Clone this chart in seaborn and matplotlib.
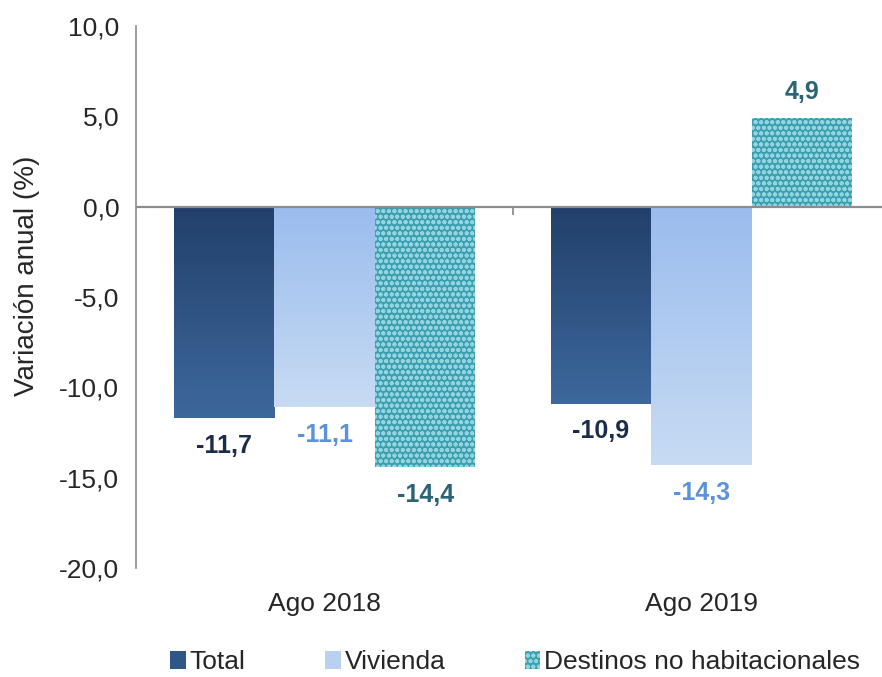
import numpy as np
import pandas as pd
import seaborn as sns
import matplotlib.pyplot as plt
from matplotlib.patches import Patch

# datos del grafico
periodos = ["Ago 2018", "Ago 2019"]
series = ["Total", "Vivienda", "Destinos no habitacionales"]
total = [-11.7, -10.9]
vivienda = [-11.1, -14.3]
destinos = [-14.4, 4.9]
yticks = [10, 5, 0, -5, -10, -15, -20]

df = pd.DataFrame({
    "periodo": periodos * 3,
    "serie": [s for s in series for _ in periodos],
    "valor": total + vivienda + destinos,
})

sns.set_style("white")
plt.rcParams["font.family"] = ["Liberation Sans", "DejaVu Sans"]
plt.rcParams["hatch.linewidth"] = 1.3

colores = {"Total": "#335c8f", "Vivienda": "#b5cdee",
           "Destinos no habitacionales": "#3a9fb1"}
grad = {"Total": ("#22406b", "#3d689c"), "Vivienda": ("#9abcee", "#c7dbf3")}
col_txt = {"Total": "#1b2d4b", "Vivienda": "#5a92dc",
           "Destinos no habitacionales": "#2a6475"}

fig = plt.figure(figsize=(8.82, 6.77), dpi=100)
ax = fig.add_axes([0.1542, 0.161, 0.855, 0.8006])

sns.barplot(data=df, x="periodo", y="valor", hue="serie", order=periodos,
            hue_order=series, palette=colores, linewidth=0, saturation=1,
            legend=False, ax=ax)

ax.set_ylim(-20, 10)
ax.set_xlim(-0.5, 1.5)

def hex2rgb(h):
    h = h.lstrip("#")
    return np.array([int(h[i:i + 2], 16) / 255 for i in (0, 2, 4)])

for serie, cont in zip(series, ax.containers):
    for bar, v in zip(cont.patches, df[df.serie == serie].valor):
        if serie in grad:
            c0, c1 = hex2rgb(grad[serie][0]), hex2rgb(grad[serie][1])
            t = np.linspace(0, 1, 100)[:, None]
            img = (c0 * (1 - t) + c1 * t)[:, None, :]
            x0, w = bar.get_x(), bar.get_width()
            y0, y1 = sorted([0, bar.get_height()])
            # gradiente: oscuro junto al eje cero
            extent = (x0, x0 + w, y0, y1) if v < 0 else (x0, x0 + w, y1, y0)
            im = ax.imshow(img, extent=extent, origin="lower" if v > 0 else "upper",
                           aspect="auto", zorder=bar.get_zorder(), interpolation="bilinear")
            im.set_clip_path(bar)
        else:
            bar.set_hatch("ooo")
            bar.set_edgecolor("#93d4df")
            bar.set_linewidth(0)
        off = -20 if v < 0 else 19
        ax.annotate(f"{v:.1f}".replace(".", ","),
                    (bar.get_x() + bar.get_width() / 2, v),
                    xytext=(0, off), textcoords="offset points",
                    ha="center", va="center", fontsize=18, fontweight="bold",
                    color=col_txt[serie])

ax.set_xlim(-0.5, 1.5)
ax.set_ylim(-20, 10)
ax.axhline(0, color="#8c8c8c", lw=1.6, zorder=5)
ax.vlines(0.5, -0.45, 0, color="#8c8c8c", lw=1.3, zorder=5)

ax.set_yticks(yticks)
ax.set_yticklabels([f"{t:.1f}".replace(".", ",") for t in yticks], fontsize=19)
ax.tick_params(axis="y", length=6, width=1.2, color="#8c8c8c", pad=6)
ax.tick_params(axis="x", length=0, pad=17, labelsize=19)
ax.set_xlabel("")
ax.set_ylabel("Variación anual (%)", fontsize=20)
ax.yaxis.set_label_coords(-0.127, 0.54)

for s in ["top", "right", "bottom"]:
    ax.spines[s].set_visible(False)
ax.spines["left"].set_color("#8c8c8c")
ax.spines["left"].set_linewidth(1.2)

handles = [
    Patch(facecolor="#2f5688", linewidth=0),
    Patch(facecolor="#b9d1f0", linewidth=0),
    Patch(facecolor="#3a9fb1", edgecolor="#93d4df", hatch="ooo", linewidth=0),
]
fig.legend(handles, series, loc="center", bbox_to_anchor=(0.584, 0.022),
           ncol=3, frameon=False, fontsize=19, handlelength=0.6,
           handleheight=0.7, handletextpad=0.15, columnspacing=3.0)

fig.savefig("out.png", dpi=100)
